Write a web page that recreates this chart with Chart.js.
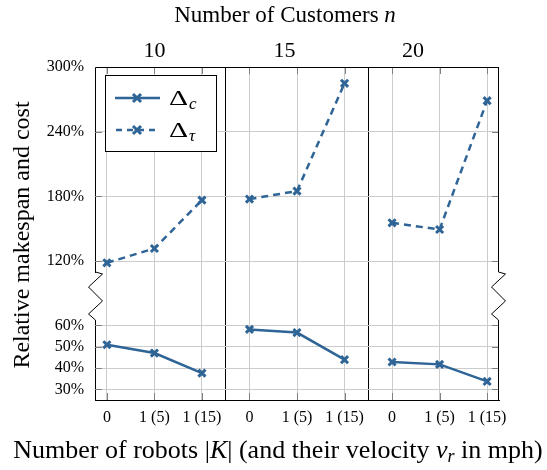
<!DOCTYPE html>
<html lang="en">
<head>
    <meta charset="UTF-8">
    <title>Relative makespan and cost</title>
    <script src="https://cdn.jsdelivr.net/npm/chart.js"></script>
    <style>
        body { margin: 0; background: #fff; }
    </style>
</head>
<body>
    <canvas id="groupChart" width="547" height="470"></canvas>

    <script>
        // Data
        const customers = ['10', '15', '20'];
        const robotLabels = ['0', '1 (5)', '1 (15)'];
        const costDelta = [
            [50.9, 47.0, 37.6],
            [58.1, 56.6, 43.9],
            [42.8, 41.7, 33.7]
        ];
        const makespanDelta = [
            [118.5, 131.8, 176.6],
            [177.6, 185.0, 284.9],
            [155.6, 149.4, 268.8]
        ];
        const upperTicks = [120, 180, 240, 300];
        const lowerTicks = [30, 40, 50, 60];

        const blue = '#2e6496';
        const serif = '"Liberation Serif", "Times New Roman", serif';

        // each group occupies 3 slots on the x axis, with a gap (null) between groups
        function toPoints(groups) {
            const pts = [];
            groups.forEach((vals, g) => {
                vals.forEach((v, i) => pts.push({ x: g * 3 + i, y: v }));
                if (g < groups.length - 1) pts.push({ x: g * 3 + 2.5, y: null });
            });
            return pts;
        }

        const xTicks = [];
        customers.forEach((c, g) => {
            robotLabels.forEach((r, i) => xTicks.push(g * 3 + i));
            if (g > 0) xTicks.push(g * 3 - 0.5);
        });
        xTicks.sort((a, b) => a - b);

        function drawCross(ctx, x, y, r) {
            ctx.beginPath();
            ctx.moveTo(x - r, y - r); ctx.lineTo(x + r, y + r);
            ctx.moveTo(x - r, y + r); ctx.lineTo(x + r, y - r);
            ctx.stroke();
        }

        // titles, frame, axis breaks and legend
        const decorations = {
            id: 'decorations',
            afterDraw(chart) {
                const ctx = chart.ctx;
                const a = chart.chartArea;
                const mid = chart.scales.yMid;
                const x = chart.scales.x;
                ctx.save();

                // inner tick marks
                ctx.strokeStyle = '#808080';
                ctx.lineWidth = 1;
                ['yTop', 'yBot'].forEach(id => {
                    chart.scales[id].ticks.forEach(t => {
                        const py = Math.round(chart.scales[id].getPixelForValue(t.value)) + 0.5;
                        ctx.beginPath();
                        ctx.moveTo(a.left, py); ctx.lineTo(a.left + 7, py);
                        ctx.moveTo(a.right - 7, py); ctx.lineTo(a.right, py);
                        ctx.stroke();
                    });
                });
                x.ticks.forEach(t => {
                    if (!Number.isInteger(t.value)) return;
                    const px = Math.round(x.getPixelForValue(t.value)) + 0.5;
                    ctx.beginPath();
                    ctx.moveTo(px, a.bottom); ctx.lineTo(px, a.bottom - 7);
                    ctx.moveTo(px, a.top); ctx.lineTo(px, a.top + 7);
                    ctx.stroke();
                });

                // frame
                ctx.strokeStyle = '#000';
                const L = a.left + 0.5, R = a.right - 0.5;
                ctx.beginPath();
                ctx.moveTo(L, a.top + 0.5); ctx.lineTo(R, a.top + 0.5);
                ctx.moveTo(R, a.top); ctx.lineTo(R, mid.top);
                ctx.moveTo(R, mid.bottom); ctx.lineTo(R, a.bottom);
                ctx.stroke();

                // zigzag breaks
                const zz = [[0, 0], [7, 2], [-7, 15], [7, 29], [-7, 42], [0, 48]];
                const h = mid.bottom - mid.top;
                [L, R].forEach(bx => {
                    ctx.beginPath();
                    zz.forEach(([dx, dy], k) => {
                        const py = mid.top + dy * h / 48;
                        if (k === 0) ctx.moveTo(bx + dx, py); else ctx.lineTo(bx + dx, py);
                    });
                    ctx.stroke();
                });

                // titles
                ctx.fillStyle = '#000';
                ctx.textBaseline = 'alphabetic';
                ctx.textAlign = 'left';
                function drawRuns(runs, cx, y) {
                    let w = 0;
                    runs.forEach(r => { ctx.font = r.f; w += ctx.measureText(r.t).width; });
                    let px = cx - w / 2;
                    runs.forEach(r => {
                        ctx.font = r.f;
                        ctx.fillText(r.t, px, y + (r.dy || 0));
                        px += ctx.measureText(r.t).width;
                    });
                }
                drawRuns([
                    { t: 'Number of Customers ', f: '23px ' + serif },
                    { t: 'n', f: 'italic 23px ' + serif }
                ], 285, 22);

                ctx.textAlign = 'center';
                ctx.font = '22px ' + serif;
                const labelX = [a.left + 59.5, a.left + 189.5, a.left + 318];
                customers.forEach((c, g) => ctx.fillText(c, labelX[g], 57));

                ctx.textAlign = 'left';
                const rm = '26px ' + serif, it = 'italic 26px ' + serif;
                drawRuns([
                    { t: 'Number of robots |', f: rm },
                    { t: 'K', f: it },
                    { t: '| (and their velocity ', f: rm },
                    { t: 'v', f: it },
                    { t: 'r', f: 'italic 18px ' + serif, dy: 4 },
                    { t: ' in mph)', f: rm }
                ], 278, 458);

                ctx.save();
                ctx.translate(29, 235);
                ctx.rotate(-Math.PI / 2);
                ctx.textAlign = 'center';
                ctx.font = '24px ' + serif;
                ctx.fillText('Relative makespan and cost', 0, 0);
                ctx.restore();

                // legend
                const lx = a.left + 10, ly = a.top + 8, lw = 111, lh = 76;
                ctx.fillStyle = '#fff';
                ctx.fillRect(lx, ly, lw, lh);
                ctx.strokeStyle = '#000';
                ctx.strokeRect(lx + 0.5, ly + 0.5, lw, lh);
                const entries = [{ name: 'c', dash: [] }, { name: '\u03c4', dash: [6, 5] }];
                entries.forEach((e, k) => {
                    const yy = ly + 23 + k * 32;
                    ctx.strokeStyle = blue;
                    ctx.lineWidth = 2.5;
                    ctx.setLineDash(e.dash);
                    ctx.lineDashOffset = e.dash.length ? -1 : 0;
                    ctx.beginPath();
                    ctx.moveTo(lx + 10, yy); ctx.lineTo(lx + 55, yy);
                    ctx.stroke();
                    ctx.setLineDash([]);
                    ctx.lineWidth = 3;
                    drawCross(ctx, lx + 32, yy, 4);
                    ctx.fillStyle = '#000';
                    ctx.save();
                    ctx.translate(lx + 64, yy + 7);
                    ctx.scale(1.35, 1);
                    ctx.font = '22px ' + serif;
                    ctx.fillText('\u0394', 0, 0);
                    const dw = ctx.measureText('\u0394').width * 1.35;
                    ctx.restore();
                    ctx.font = 'italic 17px ' + serif;
                    ctx.fillText(e.name, lx + 64 + dw + 1, yy + 11);
                });

                ctx.restore();
            }
        };

        const tickFont = { family: serif, size: 16 };

        new Chart(document.getElementById('groupChart'), {
            type: 'line',
            data: {
                datasets: [{
                    label: '\u0394c',
                    data: toPoints(costDelta),
                    yAxisID: 'yBot',
                    borderColor: blue,
                    backgroundColor: blue,
                    borderWidth: 2.5,
                    pointStyle: 'crossRot',
                    pointRadius: 5,
                    pointBorderWidth: 3,
                    fill: false
                }, {
                    label: '\u0394\u03c4',
                    data: toPoints(makespanDelta),
                    yAxisID: 'yTop',
                    borderColor: blue,
                    backgroundColor: blue,
                    borderWidth: 2.5,
                    borderDash: [7, 5],
                    pointStyle: 'crossRot',
                    pointRadius: 5,
                    pointBorderWidth: 3,
                    fill: false
                }]
            },
            options: {
                responsive: false,
                animation: false,
                devicePixelRatio: 1,
                layout: { padding: { top: 67, right: 48, bottom: 0, left: 0 } },
                plugins: {
                    legend: { display: false },
                    tooltip: { enabled: false }
                },
                scales: {
                    x: {
                        type: 'linear',
                        min: -0.25,
                        max: 8.25,
                        afterBuildTicks: s => { s.ticks = xTicks.map(v => ({ value: v })); },
                        afterFit: s => { s.height = 70; },
                        ticks: {
                            font: tickFont,
                            color: '#000',
                            padding: 8,
                            maxRotation: 0,
                            autoSkip: false,
                            callback: v => Number.isInteger(v) ? robotLabels[v % 3] : ''
                        },
                        grid: {
                            drawTicks: false,
                            color: c => Number.isInteger(c.tick.value) ? '#cccccc' : '#000',
                            lineWidth: 1
                        },
                        border: { color: '#000', width: 1 }
                    },
                    yBot: {
                        type: 'linear',
                        position: 'left',
                        stack: 'v',
                        stackWeight: 80,
                        weight: 1,
                        min: 25,
                        max: 62.5,
                        afterBuildTicks: s => { s.ticks = lowerTicks.map(v => ({ value: v })); },
                        afterFit: s => { s.width = 95; },
                        ticks: { font: tickFont, color: '#000', padding: 11, autoSkip: false, callback: v => v + '%' },
                        grid: { drawTicks: false, color: '#cccccc' },
                        border: { color: '#000', width: 1 }
                    },
                    yMid: {
                        type: 'linear',
                        position: 'left',
                        stack: 'v',
                        stackWeight: 48,
                        weight: 2,
                        min: 0,
                        max: 1,
                        afterFit: s => { s.width = 95; },
                        ticks: { display: false },
                        grid: { display: false },
                        border: { display: false }
                    },
                    yTop: {
                        type: 'linear',
                        position: 'left',
                        stack: 'v',
                        stackWeight: 205,
                        weight: 3,
                        min: 110,
                        max: 300,
                        afterBuildTicks: s => { s.ticks = upperTicks.map(v => ({ value: v })); },
                        afterFit: s => { s.width = 95; },
                        ticks: { font: tickFont, color: '#000', padding: 11, autoSkip: false, callback: v => v + '%' },
                        grid: { drawTicks: false, color: '#cccccc' },
                        border: { color: '#000', width: 1 }
                    }
                }
            },
            plugins: [decorations]
        });
    </script>
</body>
</html>
